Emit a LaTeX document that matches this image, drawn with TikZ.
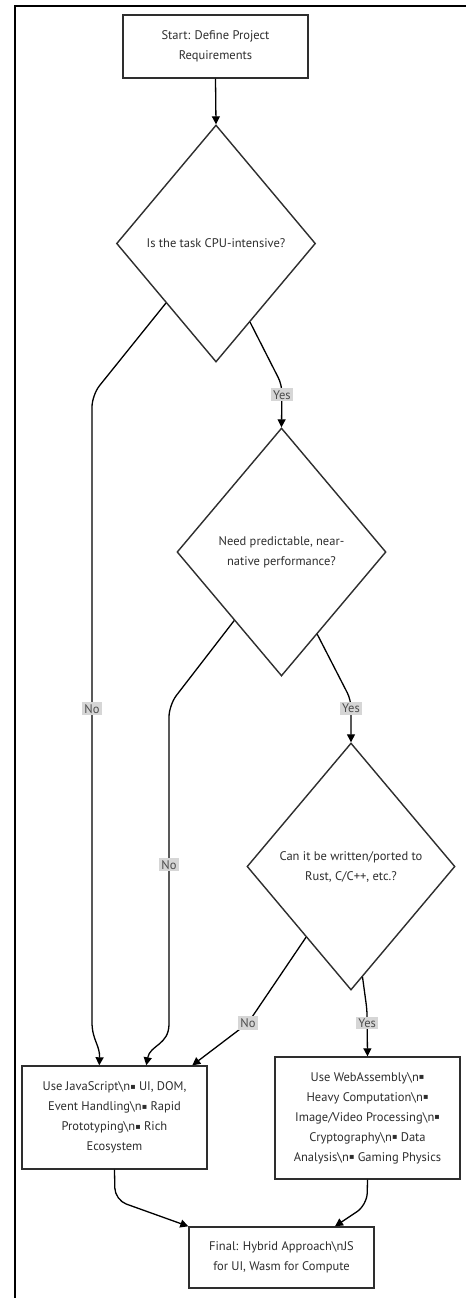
\documentclass[tikz,border=0pt]{standalone}
\usepackage{fontspec}
\setmainfont{PT Sans}
\newfontfamily\symfont{DejaVu Sans}
\usetikzlibrary{shapes.geometric,arrows.meta,calc}
\newcommand{\bl}{\raisebox{1.2pt}{\symfont\fontsize{8}{8}\selectfont ▪}}
\newcommand{\nl}{\textbackslash n}
\definecolor{ink}{HTML}{2E2E2E}
\definecolor{labfill}{HTML}{D6D6D6}
\begin{document}
\begin{tikzpicture}[x=1pt,y=-1pt,
  every node/.style={font=\fontsize{12.5}{20}\selectfont, text=ink},
  box/.style={draw=ink, line width=1.4pt, fill=white, align=center, inner sep=0pt, minimum width=185pt, sharp corners},
  dec/.style={diamond, draw=ink, line width=1.4pt, fill=white, align=center, inner sep=0pt, sharp corners},
  lab/.style={fill=labfill, text=black!70, inner sep=2pt, sharp corners, font=\fontsize{12.5}{14}\selectfont},
  conn/.style={draw=black, line width=1.3pt, -{Triangle[length=8pt,width=8pt]}}]
\useasboundingbox (0,0) rectangle (466,1298);
\fill[white] (0,0) rectangle (466,1298);
\draw[line width=2pt] (15,1298) -- (15,6) -- (466,6);

\node[box, minimum height=63pt] (start) at (215.5,46.5) {Start: Define Project\\Requirements};
\node[dec, minimum width=199pt, minimum height=237pt] (d1) at (216,243.5) {Is the task CPU-intensive?};
\node[dec, minimum width=209pt, minimum height=248pt] (d2) at (281.5,552) {Need predictable, near-\\native performance?};
\node[dec, minimum width=208pt, minimum height=247pt] (d3) at (351,866.5) {Can it be written/ported to\\Rust, C/C++, etc.?};
\node[box, minimum height=103pt] (js) at (114.5,1117.5) {Use JavaScript\nl\bl{} UI, DOM,\\Event Handling\nl\bl{} Rapid\\Prototyping\nl\bl{} Rich\\Ecosystem};
\node[box, minimum height=122pt] (wasm) at (367.5,1118) {Use WebAssembly\nl\bl\\Heavy Computation\nl\bl\\Image/Video Processing\nl\bl\\Cryptography\nl\bl{} Data\\Analysis\nl\bl{} Gaming Physics};
\node[box, minimum height=61pt] (final) at (281.5,1257.5) {Final: Hybrid Approach\nl JS\\for UI, Wasm for Compute};

\coordinate (n1s) at ($(d1.west)!0.5!(d1.south)$);
\coordinate (y1s) at ($(d1.east)!0.66!(d1.south)$);
\coordinate (n2s) at ($(d2.west)!0.55!(d2.south)$);
\coordinate (y2s) at ($(d2.east)!0.66!(d2.south)$);
\coordinate (n3s) at ($(d3.west)!0.57!(d3.south)$);
\coordinate (y3s) at ($(d3.east)!0.89!(d3.south)$);
\coordinate (jsA) at ($(js.north west)+(78,0)$);
\coordinate (jsB) at ($(js.north west)+(125,0)$);
\coordinate (jsC) at ($(js.north west)+(171,0)$);
\coordinate (finR) at ($(final.north)+(53.5,0)$);

\draw[conn] (start.south) -- (d1.north);
\draw[conn, rounded corners=8pt] (y1s) -- (282,385) -- node[lab,pos=0.23]{Yes} (d2.north);
\draw[conn, rounded corners=12pt] (n1s) -- (92,395) -- node[lab,pos=0.51]{No} (92,1010) .. controls (92,1040) and (100,1045) .. (jsA);
\draw[conn, rounded corners=8pt] (y2s) -- (351,700) -- node[lab,pos=0.2]{Yes} (d3.north);
\draw[conn, rounded corners=12pt] (n2s) -- (169,705) -- node[lab,pos=0.52]{No} (169,1012) .. controls (169,1045) and (150,1045) .. (jsB);
\draw[conn, rounded corners=6pt] (n3s) -- (248,1023) node[lab]{No} -- (jsC);
\draw[conn, rounded corners=6pt] (y3s) -- (367,1010) -- node[lab,pos=0.28]{Yes} (wasm.north);
\draw[conn, rounded corners=12pt] (js.south) -- (115,1200) -- (final.north west);
\draw[conn, rounded corners=12pt] (wasm.south) -- (367,1205) -- (finR);
\end{tikzpicture}
\end{document}
